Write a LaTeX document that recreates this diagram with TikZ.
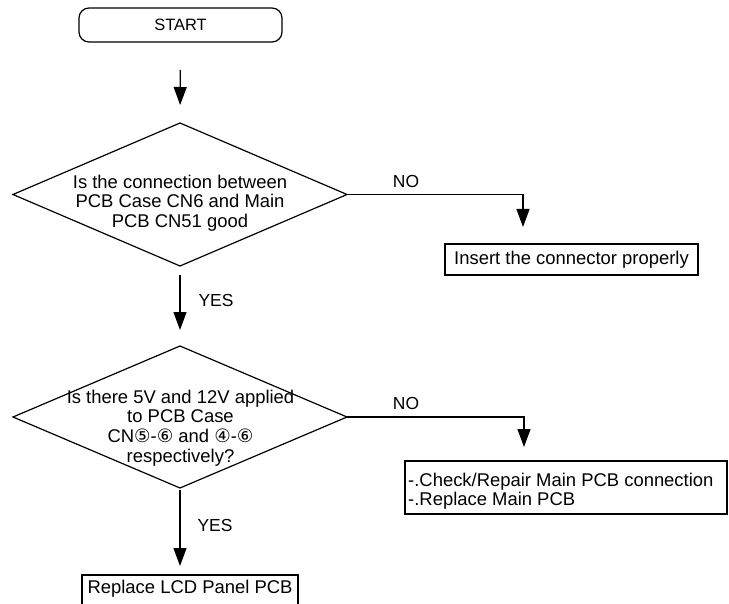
\documentclass[tikz,border=0pt]{standalone}
\usepackage{fontspec}
\setmainfont{Liberation Sans}
\newfontfamily\dv{DejaVu Sans}
\usetikzlibrary{arrows.meta,shapes.geometric}
\tikzset{
  ln/.style={line width=1.2bp, black},
  arr/.style={ln, -{Triangle[length=18bp,width=13bp]}},
  body/.style={font=\fontsize{18.5}{19.5}\selectfont},
  lbl/.style={font=\fontsize{17.5}{19}\selectfont, inner sep=0pt},
  dec/.style={ln, draw, diamond, minimum width=334bp, minimum height=143bp, inner sep=0pt, outer sep=0pt},
  boxnode/.style={ln, draw, rectangle, inner sep=0pt, outer sep=0pt, body},
  term/.style={ln, draw, rectangle, rounded corners=10bp, minimum width=203bp, minimum height=34bp, inner sep=0pt, outer sep=0pt, font=\fontsize{16.5}{18}\selectfont}
}
\begin{document}
\begin{tikzpicture}[x=1bp,y=-1bp]
\clip (0,0) rectangle (729,604);
\fill[white] (0,0) rectangle (729,604);

\node[term] (start) at (180.5,25) {START};

\node[dec] (d1) at (180,194.5) {};
\node[body, align=center, inner sep=0pt] (t1) at (180,203) {Is the connection between\\PCB Case CN6 and Main\\PCB CN51 good};

\node[dec, minimum height=142bp] (d2) at (180,417) {};
\node[font=\fontsize{18.5}{19.8}\selectfont, align=center, inner sep=0pt] (t2) at (180.5,428) {Is there 5V and 12V applied\\to PCB Case\\CN{\dv ⑤}-{\dv ⑥} and {\dv ④}-{\dv ⑥}\\respectively?};

\node[boxnode, minimum width=253bp, minimum height=31bp] (b1) at (571.5,259.5) {Insert the connector properly};

\node[boxnode, minimum width=322bp, minimum height=53bp,
  label={[body, anchor=west, align=left, inner sep=0pt, xshift=3bp, yshift=-4bp]west:{-.Check/Repair Main PCB connection\\-.Replace Main PCB}}] (b2) at (566,487.5) {};

\node[boxnode, anchor=north, minimum width=216bp, inner ysep=5bp, text height=13.5bp, text depth=30bp] (b3) at (190,575) {Replace LCD Panel PCB};

\coordinate (n1) at (523,227);
\coordinate (n2) at (524,447);

\draw[arr, shorten <=28bp, shorten >=18bp] (start.south) -- (d1.north);
\draw[arr, shorten <=9bp, shorten >=16bp] (d1.south) -- (d2.north);
\draw[arr, shorten <=2bp, shorten >=9bp] (d2.south) -- (d2.south |- b3.north);
\draw[arr] (d1.east) -| (n1);
\draw[arr] (d2.east) -| (n2);

\node[lbl] (no1) at (406,181) {NO};
\node[lbl] (no2) at (406,403) {NO};
\node[lbl] (yes1) at (216,300) {YES};
\node[lbl] (yes2) at (215,525) {YES};
\end{tikzpicture}
\end{document}
